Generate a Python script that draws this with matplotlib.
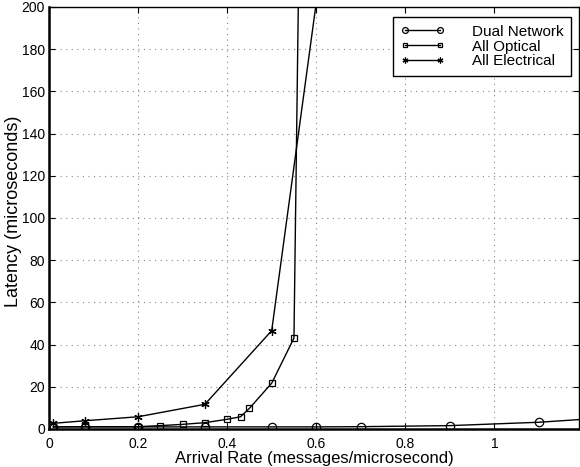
import matplotlib
matplotlib.use("Agg")
import matplotlib.pyplot as plt

plt.rcParams['font.family'] = ['Liberation Sans', 'DejaVu Sans']

# Dual Network
dualX = [0.01, 0.08, 0.2, 0.35, 0.5, 0.6, 0.7, 0.9, 1.1, 1.3]
dualY = [1.0, 1.0, 1.0, 1.0, 1.0, 1.0, 1.1, 1.6, 3.2, 6.0]
# All Optical
optX = [0.01, 0.08, 0.2, 0.25, 0.3, 0.35, 0.4, 0.43, 0.45, 0.5, 0.55, 0.56]
optY = [1.0, 1.1, 1.1, 1.6, 2.2, 3.0, 4.6, 5.8, 9.8, 21.7, 43.1, 205]
# All Electrical
elecX = [0.01, 0.08, 0.2, 0.35, 0.5, 0.6]
elecY = [2.7, 3.9, 5.8, 11.7, 46.6, 202]

xticks = [0, 0.2, 0.4, 0.6, 0.8, 1]
xticklabels = ["0", "0.2", "0.4", "0.6", "0.8", "1"]
yticks = list(range(0, 201, 20))

fig = plt.figure(figsize=(5.8, 4.67), dpi=100)
ax = fig.add_axes([49/580, 38/467, 530/580, 422/467])

ax.plot(dualX, dualY, color="black", lw=1, marker="o", ms=6, mfc="none", mec="black", mew=0.9, label="Dual Network")
ax.plot(optX, optY, color="black", lw=1, marker="s", ms=5, mfc="none", mec="black", mew=0.9, label="All Optical")
ax.plot(elecX, elecY, color="black", lw=1, marker=(6, 2, 0), ms=6, mec="black", mew=0.9, label="All Electrical")

ax.set_xlim(0, 1.19)
ax.set_ylim(0, 200)
ax.set_xticks(xticks)
ax.set_xticklabels(xticklabels)
ax.set_yticks(yticks)
ax.grid(True, linestyle=(0, (1, 4)), color="#888888", linewidth=0.8)
ax.tick_params(direction="in", top=True, right=True, labelsize=10, length=4)
ax.tick_params(axis="y", pad=3)
ax.tick_params(axis="x", pad=6)
for s in ["left", "bottom"]:
    ax.spines[s].set_linewidth(1.8)
for s in ["top", "right"]:
    ax.spines[s].set_linewidth(1.0)

ax.set_xlabel("Arrival Rate (messages/microsecond)", fontsize=12, labelpad=0)
ax.set_ylabel("Latency (microseconds)", fontsize=13)
ax.yaxis.set_label_coords(-0.051, 0.517)

leg = ax.legend(loc="upper right", bbox_to_anchor=(0.985, 0.976), borderaxespad=0, numpoints=2,
                fontsize=11, markerscale=0.7, handlelength=2.9, fancybox=False, edgecolor="black",
                framealpha=1, borderpad=0.5, labelspacing=0.05, handletextpad=1.75)
leg.get_frame().set_linewidth(1.0)

fig.savefig("out.png", dpi=100)
